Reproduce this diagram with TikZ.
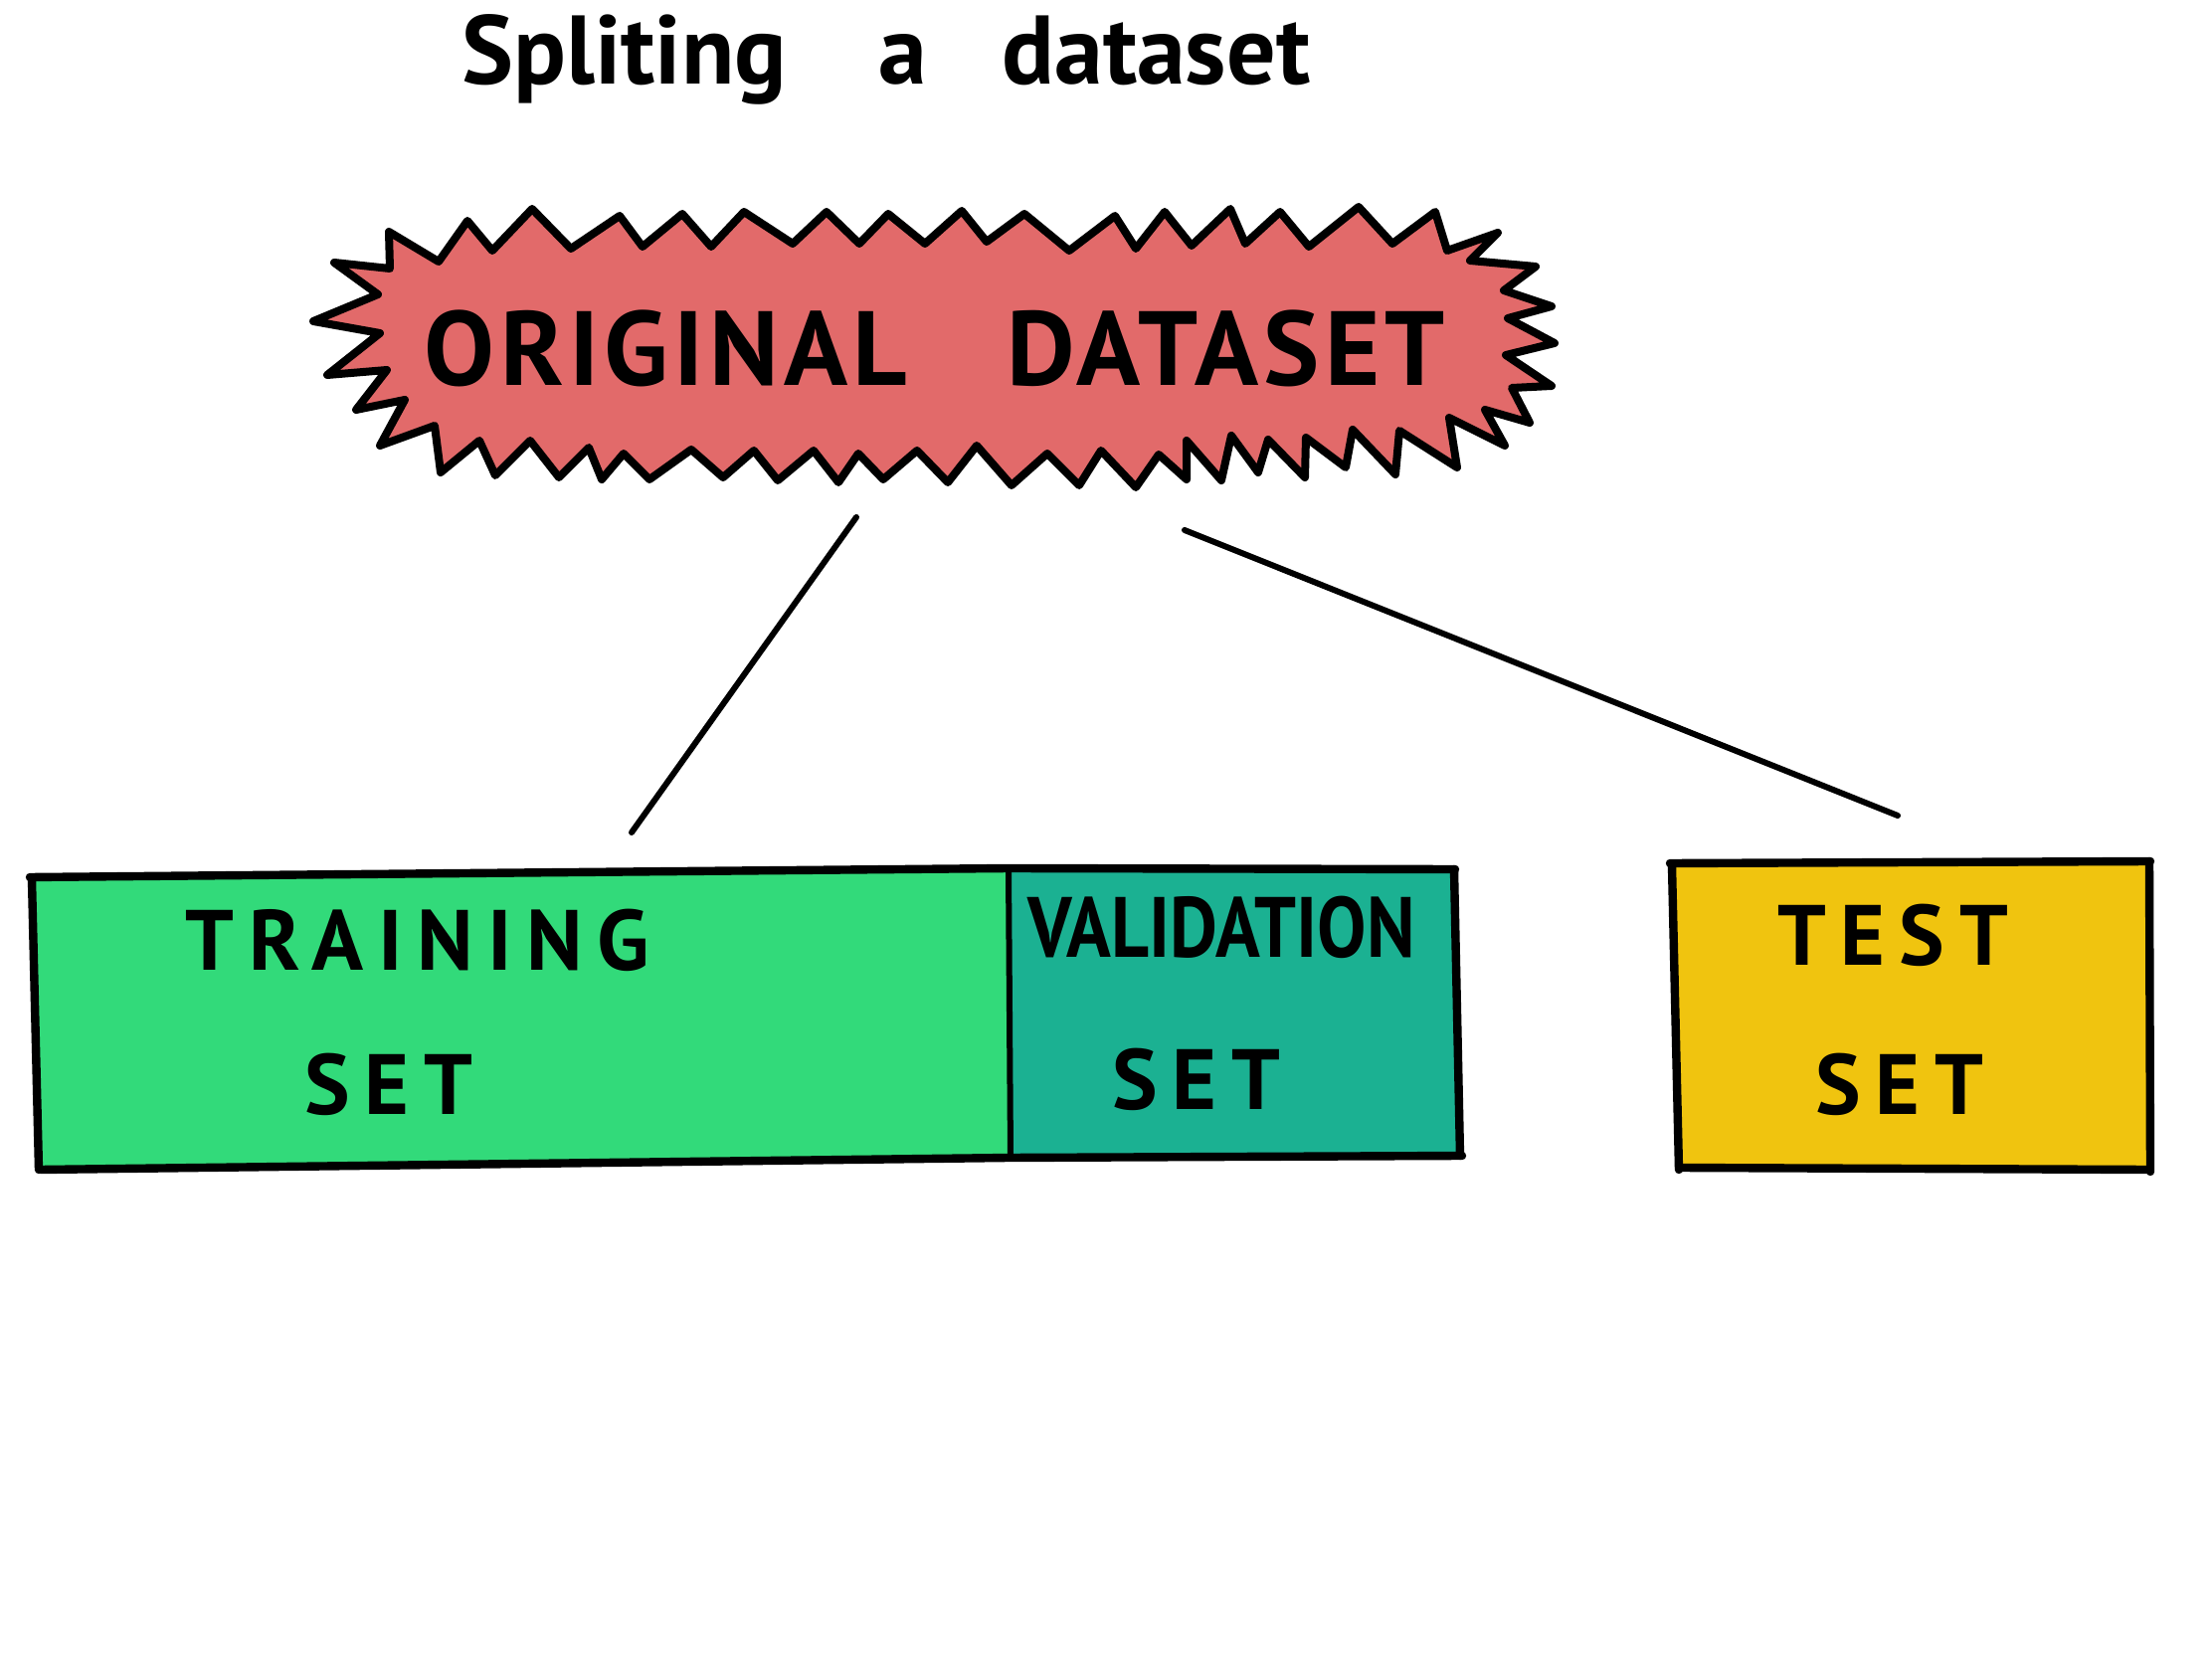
\documentclass[tikz,border=0pt]{standalone}
\usepackage{fontspec}
\setmainfont{PT Sans}
\newfontfamily\handfont[LetterSpace=17]{PT Sans}
\newfontfamily\burstfont[LetterSpace=5]{PT Sans}
\definecolor{burstred}{HTML}{E26A6A}
\definecolor{traingreen}{HTML}{32DA7A}
\definecolor{valteal}{HTML}{1BB192}
\definecolor{testyellow}{HTML}{F0C40F}
\begin{document}
\begin{tikzpicture}[x=0.5pt,y=-0.5pt,
  boxlabel/.style={font=\handfont\bfseries\fontsize{43}{43}\selectfont, inner sep=0pt, anchor=base},
  border/.style={line width=4.2pt, line cap=round, line join=round},
  link/.style={line width=3pt, line cap=round}]
\useasboundingbox[fill=white] (0,0) rectangle (2224,1668);

% title
\node[font=\bfseries\fontsize{49}{49}\selectfont, anchor=base, inner sep=0pt] (title) at (891,85)
  {Spliting\hspace{46pt}a\hspace{38pt}dataset};

% starburst
\draw[fill=burstred, line width=4pt, line join=round]
  (391,233) -- (441,263) -- (470,222) -- (495,252) -- (535,210) -- (574,250) -- (623,217)
  -- (646,248) -- (686,215) -- (715,248) -- (748,213) -- (797,245) -- (831,213) -- (864,245)
  -- (893,215) -- (930,245) -- (967,212) -- (992,243) -- (1030,215) -- (1075,252) -- (1121,217)
  -- (1142,250) -- (1171,213) -- (1198,247) -- (1237,210) -- (1252,245) -- (1287,213) -- (1316,248)
  -- (1366,208) -- (1400,245) -- (1443,213) -- (1455,252) -- (1506,234) -- (1478,262)
  -- (1544,268) -- (1512,292) -- (1560,308) -- (1516,320) -- (1563,345) -- (1514,357)
  -- (1560,388) -- (1520,390) -- (1538,425) -- (1493,412) -- (1513,448) -- (1457,420)
  -- (1465,470) -- (1407,433) -- (1403,477) -- (1360,432) -- (1353,470) -- (1313,440)
  -- (1312,480) -- (1275,442) -- (1265,475) -- (1238,438) -- (1228,483) -- (1193,443)
  -- (1193,482) -- (1165,457) -- (1142,490) -- (1107,453) -- (1085,488) -- (1053,456)
  -- (1017,488) -- (982,448) -- (953,485) -- (922,453) -- (888,482) -- (863,456)
  -- (843,485) -- (818,453) -- (782,483) -- (758,453) -- (727,480) -- (695,452)
  -- (653,482) -- (627,456) -- (605,482) -- (592,450) -- (562,480) -- (533,443)
  -- (498,478) -- (482,443) -- (443,475) -- (437,428) -- (382,448) -- (407,402)
  -- (358,412) -- (389,372) -- (329,377) -- (382,335)
  -- (315,323) -- (380,296) -- (336,264) -- (392,270) -- cycle;
\node[font=\burstfont\bfseries\fontsize{53}{53}\selectfont, inner sep=0pt, anchor=base] (orig) at (940,388)
  {ORIGINAL\hspace{50pt}DATASET};

% connectors
\coordinate (c1s) at (861,520);
\coordinate (c1e) at (635,837);
\coordinate (c2s) at (1191,533);
\coordinate (c2e) at (1908,820);
\draw[link] (c1s) -- (c1e);
\draw[link] (c2s) -- (c2e);

% box fills
\fill[traingreen] (32,881) -- (1014,873) -- (1015,1164) -- (39,1174) -- cycle;
\fill[valteal] (1014,874) -- (1464,875) -- (1469,1162) -- (1015,1163) -- cycle;
\fill[testyellow] (1680,869) -- (2162,867) -- (2162,1176) -- (1687,1174) -- cycle;

% box borders
\draw[border] (30,882) -- (1014,873) -- (1463,874);
\draw[border] (32,884) -- (39,1176);
\draw[border] (41,1176) -- (1014,1164) -- (1470,1162);
\draw[line width=3pt, line cap=round] (1014,873) -- (1016,1164);
\draw[border] (1462,874) -- (1468,1162);
\draw[border] (1679,868) -- (2162,866);
\draw[border] (1681,870) -- (1688,1176);
\draw[border] (1688,1174) -- (2160,1176);
\draw[border] (2161,866) -- (2162,1178);

% box labels
\node[boxlabel] (train1) at (420,975) {TRAINING};
\node[boxlabel] (train2) at (391,1120) {SET};
\node[boxlabel, font=\bfseries\fontsize{43}{43}\selectfont] (val1) at (1228,962) {\scalebox{0.86}[1]{VALIDATION}};
\node[boxlabel] (val2) at (1203,1115) {SET};
\node[boxlabel] (test1) at (1903,970) {TEST};
\node[boxlabel] (test2) at (1910,1120) {SET};
\end{tikzpicture}
\end{document}
